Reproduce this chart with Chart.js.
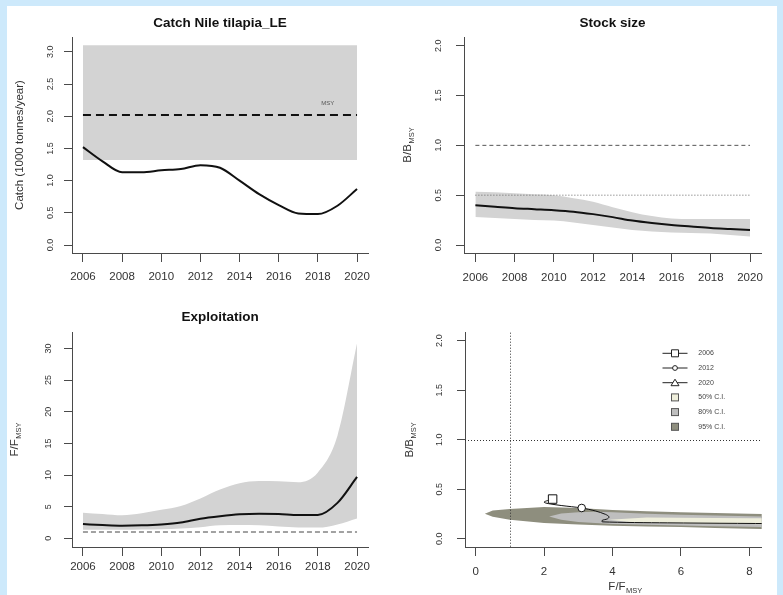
<!DOCTYPE html>
<html><head><meta charset="utf-8">
<script src="https://cdn.jsdelivr.net/npm/chart.js@4.4.1/dist/chart.umd.min.js"></script>
<style>
html,body{margin:0;padding:0;}
body{width:783px;height:595px;background:#cde9fb;position:relative;overflow:hidden;}
#sheet{position:absolute;left:7px;top:6px;width:770px;height:589px;background:#fff;}
canvas{position:absolute;}
</style></head><body>
<div id="sheet"></div>
<canvas id="c1" width="384" height="289" style="left:7px;top:6px"></canvas>
<canvas id="c2" width="386" height="289" style="left:391px;top:6px"></canvas>
<canvas id="c3" width="384" height="300" style="left:7px;top:295px"></canvas>
<canvas id="c4" width="386" height="300" style="left:391px;top:295px"></canvas>
<script>
// ---------- data ----------
const years = [2006,2007,2008,2009,2010,2011,2012,2013,2014,2015,2016,2017,2018,2019,2020];
const yearTicks = [2006,2008,2010,2012,2014,2016,2018,2020];
const catchTicks = [0,0.5,1,1.5,2,2.5,3];
const bTicks = [0,0.5,1,1.5,2];
const fTicks = [0,5,10,15,20,25,30];
const kobeFTicks = [0,2,4,6,8];

const catchVals = [1.52,1.30,1.13,1.13,1.16,1.18,1.24,1.20,1.00,0.79,0.62,0.49,0.48,0.61,0.87];
const msy = 2.02, msyLo = 1.32, msyHi = 3.10;

const bMed = [0.40,0.385,0.37,0.36,0.35,0.335,0.31,0.28,0.245,0.22,0.20,0.185,0.17,0.16,0.15];
const bLo  = [0.28,0.27,0.26,0.25,0.245,0.225,0.20,0.175,0.15,0.135,0.125,0.12,0.115,0.10,0.085];
const bHi  = [0.535,0.53,0.52,0.51,0.50,0.47,0.435,0.38,0.33,0.29,0.265,0.26,0.26,0.26,0.26];
const bRef = 1.0, bLimit = 0.5;

const fMed = [2.25,2.1,2.0,2.05,2.2,2.5,3.1,3.5,3.8,3.9,3.85,3.7,3.7,5.6,9.7];
const fLo  = [1.37,1.37,1.37,1.4,1.45,1.55,1.75,2.05,2.1,2.05,1.85,1.7,1.7,2.2,3.15];
const fHi  = [4.05,3.85,3.65,3.95,4.5,5.1,6.3,7.7,8.7,9.05,9.0,8.85,10.4,16.2,30.8];
const fRef = 1.0;

// Kobe confidence regions [F/Fmsy, B/Bmsy]
const ci95 = [[0.27,0.252],[0.5,0.285],[1,0.30],[2,0.32],[3,0.31],[4,0.29],[5,0.277],[6,0.267],[7,0.26],[8,0.252],[9,0.245],
              [9,0.095],[8,0.10],[7,0.108],[6,0.117],[5,0.124],[4,0.131],[3,0.143],[2,0.158],[1,0.19],[0.5,0.222],[0.27,0.252]];
const ci80 = [[2.15,0.225],[2.5,0.255],[3,0.268],[3.5,0.272],[4,0.266],[5,0.252],[6,0.242],[7,0.234],[8,0.227],[9,0.22],
              [9,0.115],[8,0.12],[7,0.126],[6,0.133],[5,0.14],[4,0.148],[3,0.168],[2.5,0.19],[2.15,0.225]];
const ci50 = [[3.9,0.19],[4.5,0.205],[5,0.213],[6,0.212],[7,0.21],[8,0.207],[9,0.205],
              [9,0.145],[8,0.148],[7,0.152],[6,0.156],[5,0.16],[4.5,0.168],[3.9,0.19]];
const legendYears = [2006,2012,2020];
const ciLabels = ['50% C.I.','80% C.I.','95% C.I.'];

// ---------- style ----------
const FF = '"Liberation Sans", Arial, Helvetica, sans-serif';
const AX = '#4a4a4a', TXT = '#333333';
const BAND = '#d3d3d3';
const CI_COL = ['#eeeedb','#bebebe','#8e8e7e'];

// ---------- helpers ----------
const last = years.length - 1;
const pts = (xs, ys) => xs.map((x,i)=>({x:x, y:ys[i]}));
const hline = v => [{x:years[0],y:v},{x:years[last],y:v}];
const poly = arr => arr.map(p=>({x:p[0],y:p[1]}));
const f1 = v => Number(v).toFixed(1);
const f0 = v => String(Math.round(v));

function xAxis(o){
  return {type:'linear', position:'bottom', min:o.min, max:o.max,
    border:{display:true,color:AX,width:1},
    grid:{drawOnChartArea:false,drawTicks:true,tickLength:9,color:AX,lineWidth:1},
    ticks:{autoSkip:false,minRotation:0,maxRotation:0,padding:o.pad,color:TXT,
      font:{family:FF,size:11.5},callback:o.fmt},
    afterBuildTicks:s=>{s.ticks=o.ticks.map(v=>({value:v}));},
    afterFit:s=>{s.height=o.height;}};
}
function yAxis(o){
  return {type:'linear', position:'left', min:o.min, max:o.max,
    border:{display:true,color:AX,width:1},
    grid:{drawOnChartArea:false,drawTicks:true,tickLength:8,color:AX,lineWidth:1},
    ticks:{autoSkip:false,minRotation:90,maxRotation:90,crossAlign:'center',padding:o.pad,color:TXT,
      font:{family:FF,size:9},callback:o.fmt},
    afterBuildTicks:s=>{s.ticks=o.ticks.map(v=>({value:v}));},
    afterFit:s=>{s.width=o.width;}};
}
function opts(o){
  return {responsive:false, animation:false, devicePixelRatio:1,
    layout:{padding:{left:0,right:o.padRight,top:o.padTop||0,bottom:0}},
    plugins:{legend:{display:false},tooltip:{enabled:false},
      title:o.title?{display:true,text:o.title,fullSize:false,color:'#111',
        font:{family:FF,size:13.5,weight:'bold',lineHeight:1.2},
        padding:{top:o.tTop,bottom:o.tBot}}:{display:false}},
    scales:{x:xAxis(o.x),y:yAxis(o.y)},
    elements:{point:{radius:0},line:{borderCapStyle:'butt'}}};
}
function drawRich(ctx, main, sub, cx, cy, rot){
  ctx.save();
  ctx.translate(cx,cy); ctx.rotate(rot);
  const ms=11.5, ss=7.5;
  ctx.font=ms+'px '+FF; const w1=ctx.measureText(main).width;
  ctx.font=ss+'px '+FF; const w2=sub?ctx.measureText(sub).width+0.5:0;
  const x0=-(w1+w2)/2;
  ctx.fillStyle=TXT; ctx.textBaseline='middle'; ctx.textAlign='left';
  ctx.font=ms+'px '+FF; ctx.fillText(main,x0,0);
  if(sub){ctx.font=ss+'px '+FF; ctx.fillText(sub,x0+w1+0.5,3.5);}
  ctx.restore();
}
function labelsPlugin(items){
  return {id:'axlabels', afterDraw(chart){
    const a=chart.chartArea, ctx=chart.ctx;
    items.forEach(it=>{
      if(it.kind==='y') drawRich(ctx,it.main,it.sub,a.left-it.off,(a.top+a.bottom)/2,-Math.PI/2);
      else drawRich(ctx,it.main,it.sub,(a.left+a.right)/2+(it.dx||0),a.bottom+it.off,0);
    });
  }};
}
const lineDs = (data, extra) => Object.assign({data:data, showLine:true, fill:false, pointRadius:0,
  borderColor:'#111', borderWidth:2, backgroundColor:'transparent'}, extra);

// ---------- panel 1: catch ----------
new Chart(document.getElementById('c1'), {
  type:'scatter',
  data:{datasets:[
    lineDs(pts(years,catchVals),{order:1,cubicInterpolationMode:'monotone'}),
    lineDs(hline(msy),{order:2,borderDash:[8,5]}),
    lineDs(hline(msyHi),{order:5,borderWidth:0,fill:'+1',backgroundColor:BAND}),
    lineDs(hline(msyLo),{order:6,borderWidth:0})
  ]},
  options:opts({title:'Catch Nile tilapia_LE',tTop:8.9,tBot:5.9,padRight:23,
    x:{min:2005.44,max:2020.56,ticks:yearTicks,fmt:f0,pad:7.8,height:42},
    y:{min:-0.124,max:3.23,ticks:catchTicks,fmt:f1,pad:6.75,width:65}}),
  plugins:[labelsPlugin([{kind:'y',main:'Catch (1000 tonnes/year)',sub:'',off:52}]),
    {id:'msyText',afterDatasetsDraw(chart){
      const ctx=chart.ctx, xs=chart.scales.x, ys=chart.scales.y;
      ctx.save(); ctx.font='6px '+FF; ctx.fillStyle='#555'; ctx.textAlign='center'; ctx.textBaseline='middle';
      ctx.fillText('MSY', xs.getPixelForValue(years[last]-1.5), ys.getPixelForValue(msy)-12);
      ctx.restore();}}]
});

// ---------- panel 2: stock size ----------
new Chart(document.getElementById('c2'), {
  type:'scatter',
  data:{datasets:[
    lineDs(pts(years,bMed),{order:1,cubicInterpolationMode:'monotone'}),
    lineDs(hline(bRef),{order:2,borderWidth:1,borderColor:'#555',borderDash:[4,3]}),
    lineDs(hline(bLimit),{order:2,borderWidth:1,borderColor:'#666',borderDash:[1,2]}),
    lineDs(pts(years,bHi),{order:5,borderWidth:0,fill:'+1',backgroundColor:BAND,cubicInterpolationMode:'monotone'}),
    lineDs(pts(years,bLo),{order:6,borderWidth:0,cubicInterpolationMode:'monotone'})
  ]},
  options:opts({title:'Stock size',tTop:8.9,tBot:5.9,padRight:16,
    x:{min:2005.42,max:2020.56,ticks:yearTicks,fmt:f0,pad:8.8,height:42},
    y:{min:-0.08,max:2.087,ticks:bTicks,fmt:f1,pad:11,width:73}}),
  plugins:[labelsPlugin([{kind:'y',main:'B/B',sub:'MSY',off:56}])]
});

// ---------- panel 3: exploitation ----------
new Chart(document.getElementById('c3'), {
  type:'scatter',
  data:{datasets:[
    lineDs(pts(years,fMed),{order:1,cubicInterpolationMode:'monotone'}),
    lineDs(hline(fRef),{order:2,borderWidth:1,borderColor:'#444',borderDash:[5,3]}),
    lineDs(pts(years,fHi),{order:5,borderWidth:0,fill:'+1',backgroundColor:BAND,cubicInterpolationMode:'monotone'}),
    lineDs(pts(years,fLo),{order:6,borderWidth:0,cubicInterpolationMode:'monotone'})
  ]},
  options:opts({title:'Exploitation',tTop:14.6,tBot:6.2,padRight:23,
    x:{min:2005.44,max:2020.56,ticks:yearTicks,fmt:f0,pad:4,height:48},
    y:{min:-1.37,max:32.6,ticks:fTicks,fmt:f0,pad:10.2,width:65}}),
  plugins:[labelsPlugin([{kind:'y',main:'F/F',sub:'MSY',off:57}])]
});

// ---------- panel 4: kobe ----------
const traj = pts(fMed,bMed);
new Chart(document.getElementById('c4'), {
  type:'scatter',
  data:{datasets:[
    {data:[traj[0]],pointStyle:'rect',pointRadius:6,pointBackgroundColor:'#fff',pointBorderColor:'#111',pointBorderWidth:1,order:0},
    {data:[traj[6]],pointStyle:'circle',pointRadius:3.8,pointBackgroundColor:'#fff',pointBorderColor:'#111',pointBorderWidth:1,order:0},
    {data:[traj[last]],pointStyle:'triangle',pointRadius:5,pointBackgroundColor:'#fff',pointBorderColor:'#111',pointBorderWidth:1,order:0},
    lineDs(traj,{order:1,borderWidth:1,tension:0.3}),
    lineDs(poly(ci50),{order:4,borderWidth:0,fill:'shape',backgroundColor:CI_COL[0]}),
    lineDs(poly(ci80),{order:5,borderWidth:0,fill:'shape',backgroundColor:CI_COL[1]}),
    lineDs(poly(ci95),{order:6,borderWidth:0,fill:'shape',backgroundColor:CI_COL[2]})
  ]},
  options:opts({padTop:37.7,padRight:15.3,
    x:{min:-0.31,max:8.36,ticks:kobeFTicks,fmt:f0,pad:9,height:48},
    y:{min:-0.084,max:2.08,ticks:bTicks,fmt:f1,pad:11,width:74}}),
  plugins:[labelsPlugin([{kind:'y',main:'B/B',sub:'MSY',off:55},{kind:'x',main:'F/F',sub:'MSY',off:40.2,dx:12}]),
    {id:'kobeExtras',afterDatasetsDraw(chart){
      const ctx=chart.ctx, a=chart.chartArea, xs=chart.scales.x, ys=chart.scales.y;
      ctx.save();
      ctx.strokeStyle='#333'; ctx.lineWidth=1; ctx.setLineDash([1,2]);
      const px=Math.round(xs.getPixelForValue(fRef))+0.5, py=Math.round(ys.getPixelForValue(bRef))+0.5;
      ctx.beginPath(); ctx.moveTo(px,a.top); ctx.lineTo(px,a.bottom); ctx.stroke();
      ctx.beginPath(); ctx.moveTo(a.left,py); ctx.lineTo(a.right,py); ctx.stroke();
      ctx.setLineDash([]);
      // legend
      const sx=a.right-86.7, tx=sx+23.3, y0=a.top+20.6, dy=14.7;
      ctx.font='7px '+FF; ctx.textBaseline='middle'; ctx.textAlign='left';
      legendYears.forEach((yr,i)=>{
        const y=y0+i*dy;
        ctx.strokeStyle='#222'; ctx.lineWidth=1;
        ctx.beginPath(); ctx.moveTo(sx-12.5,y); ctx.lineTo(sx+12.5,y); ctx.stroke();
        ctx.fillStyle='#fff'; ctx.beginPath();
        if(i===0){ctx.rect(sx-3.5,y-3.5,7,7);}
        else if(i===1){ctx.arc(sx,y,2.4,0,Math.PI*2);}
        else {ctx.moveTo(sx,y-3.5);ctx.lineTo(sx+4,y+3);ctx.lineTo(sx-4,y+3);ctx.closePath();}
        ctx.fill(); ctx.stroke();
        ctx.fillStyle='#444'; ctx.fillText(String(yr),tx,y);
      });
      ciLabels.forEach((lab,i)=>{
        const y=y0+(i+3)*dy;
        ctx.fillStyle=CI_COL[i]; ctx.strokeStyle='#555';
        ctx.fillRect(sx-3.5,y-3.5,7,7); ctx.strokeRect(sx-3.5,y-3.5,7,7);
        ctx.fillStyle='#444'; ctx.fillText(lab,tx,y);
      });
      ctx.restore();}}]
});
</script>
</body></html>
